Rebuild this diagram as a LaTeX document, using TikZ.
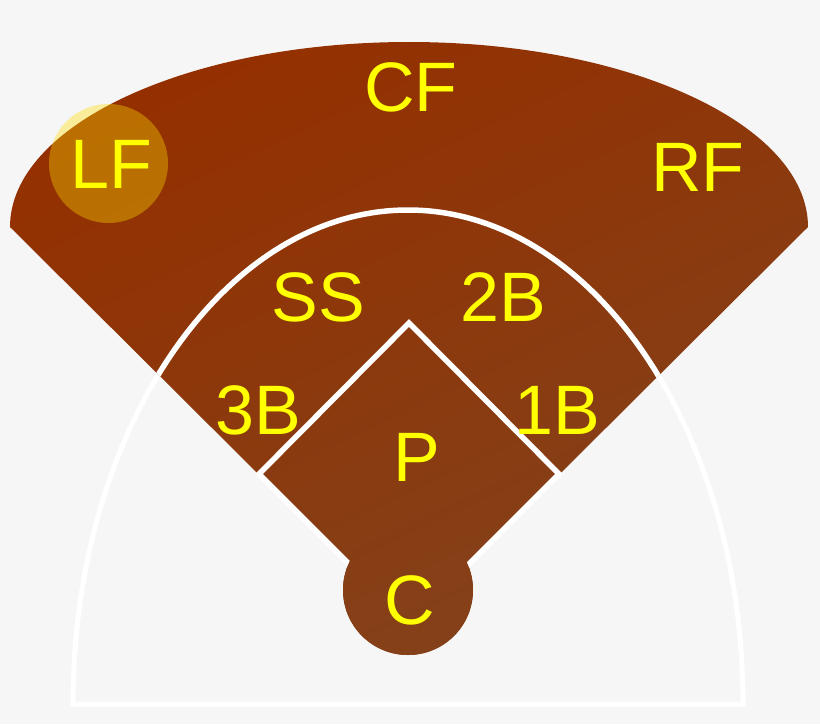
\documentclass[tikz,border=0pt]{standalone}
\usepackage{fontspec}
\setmainfont{Liberation Sans}
\definecolor{bgcol}{HTML}{F6F6F6}
\definecolor{fantop}{HTML}{943000}
\definecolor{fanbot}{HTML}{83421B}
\definecolor{lblyellow}{HTML}{FFFF00}
\definecolor{lfglow}{HTML}{FFDC00}
\begin{document}
\begin{tikzpicture}[x=1pt,y=-1pt,
  lbl/.style={text=lblyellow, font=\fontsize{70}{70}\selectfont, inner sep=0pt},
  whiteline/.style={draw=white, line width=5.5pt, line join=miter},
  fieldshade/.style={top color=fantop, bottom color=fanbot, shading angle=25}]
\def\fieldpath{(10,227) -- (409,624) -- (808,227)
  arc[start angle=0, end angle=-180, x radius=399, y radius=185] -- cycle
  (473,590) arc[start angle=0, end angle=-360, radius=65]}
\fill[bgcol] (0,0) rectangle (820,724);
\useasboundingbox (0,0) rectangle (820,724);
% foul-territory outline
\draw[whiteline, line width=5pt] (73,704)
  arc[start angle=180, end angle=360, x radius=335, y radius=494] -- cycle;
% fan (fair territory) together with the catcher circle, one shading
\shade[fieldshade] \fieldpath;
% infield arc over the fan
\begin{scope}
  \clip (10,227) -- (409,624) -- (808,227)
    arc[start angle=0, end angle=-180, x radius=399, y radius=185] -- cycle;
  \draw[whiteline] (73,704)
    arc[start angle=180, end angle=360, x radius=335, y radius=494];
\end{scope}
% diamond
\draw[whiteline] (409,323) -- (559,474) -- (409,624) -- (259,474) -- cycle;
% catcher circle covers home plate, same shading
\begin{scope}
  \clip (408,590) circle[radius=65];
  \shade[fieldshade] \fieldpath;
\end{scope}
% LF highlight
\fill[lfglow, fill opacity=0.37] (108.5,163.5) circle[radius=59.5];
% labels
\node[lbl] (cf) at (411,87) {CF};
\node[lbl] (lf) at (111,164) {LF};
\node[lbl] (rf) at (698,167) {RF};
\node[lbl] (ss) at (318,297) {SS};
\node[lbl] (b2) at (503,297) {2B};
\node[lbl] (b3) at (258,410) {3B};
\node[lbl] (b1) at (557,410) {1B};
\node[lbl] (p) at (417,457) {P};
\node[lbl] (c) at (410,600) {C};
\end{tikzpicture}
\end{document}
